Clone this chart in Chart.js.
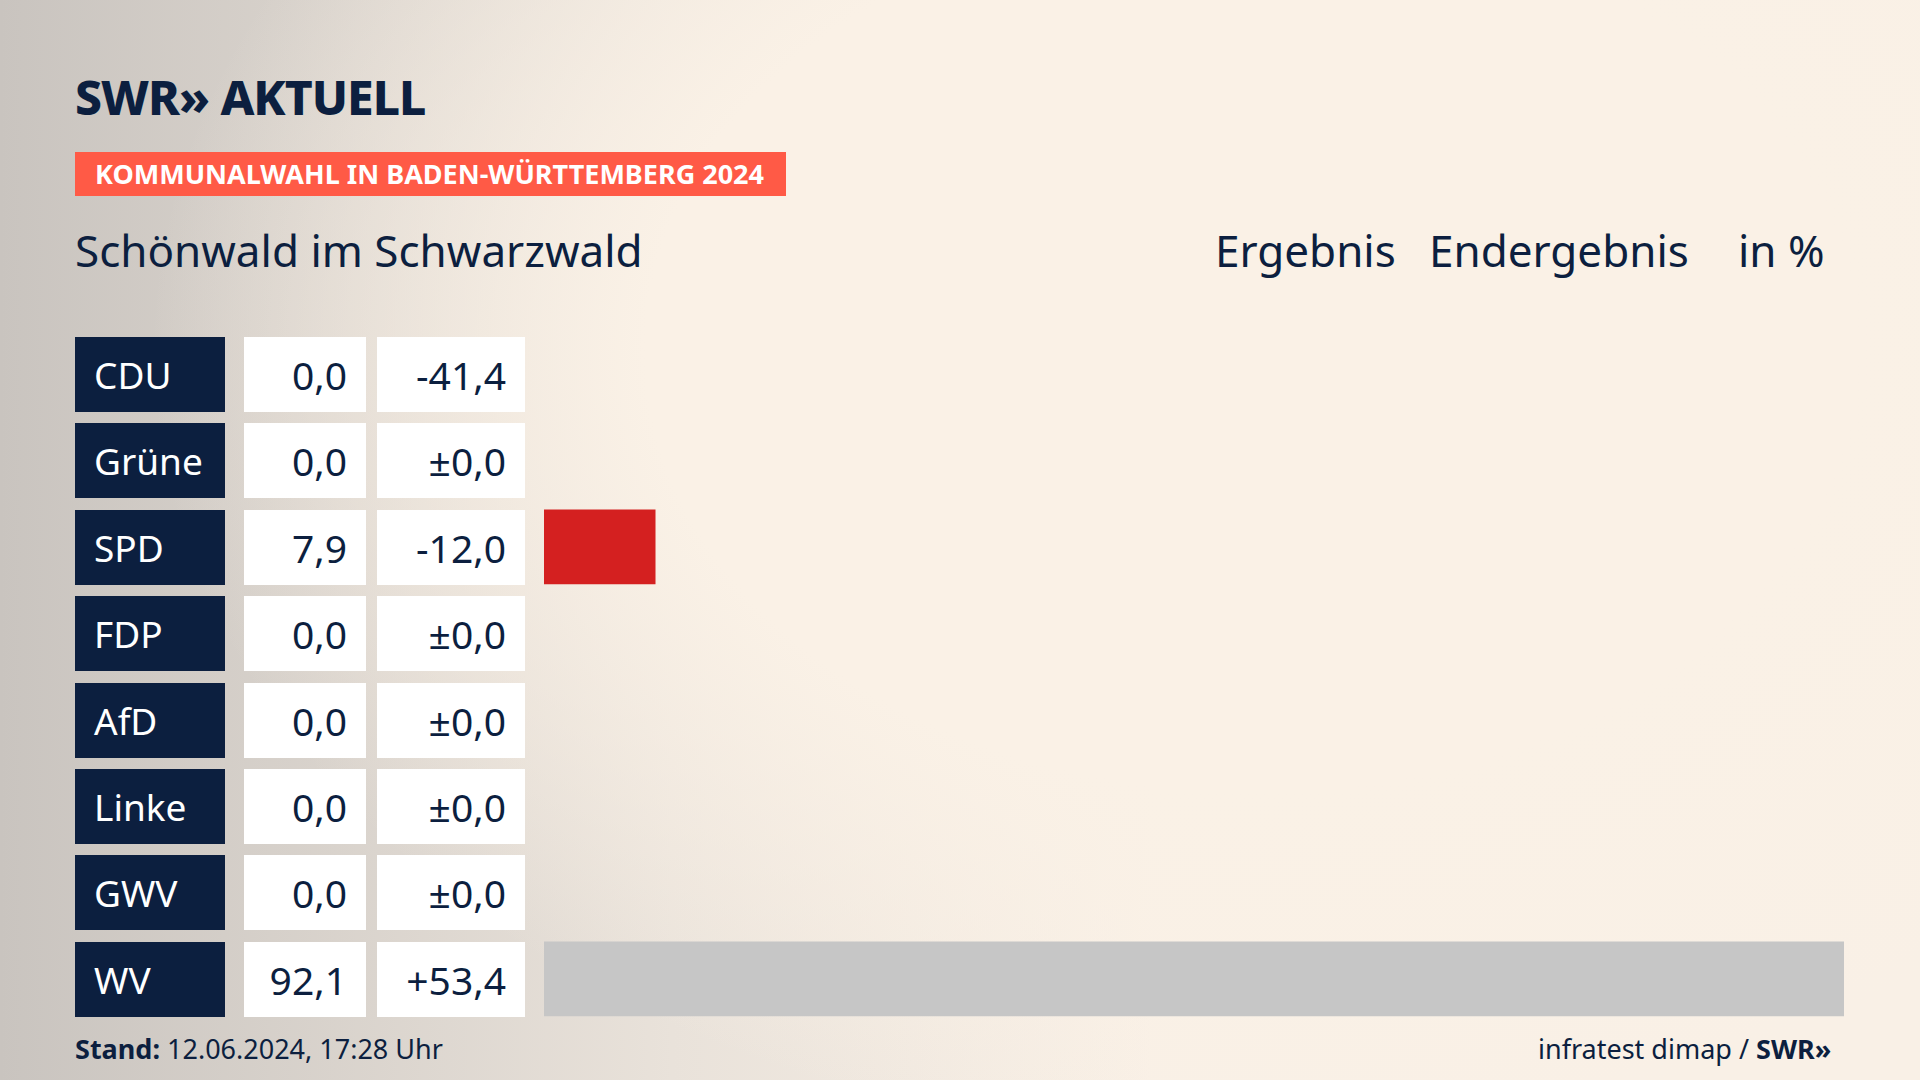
<!DOCTYPE html>
<html><head><meta charset="utf-8">
<script src="https://cdn.jsdelivr.net/npm/chart.js@4"></script>
<style>
body{margin:0;width:1920px;height:1080px;overflow:hidden;font-family:"Noto Sans",sans-serif;color:#0c1f3f;
background:radial-gradient(ellipse 1100px 800px at 1250px 350px,#faf1e6 55%,rgba(250,241,230,0) 100%),linear-gradient(90deg,#c9c4bf 0%,#e9e2da 35%,#f9f0e6 60%);}
.abs{position:absolute}
.logo{left:75px;top:64px;font-size:48px;font-weight:800;letter-spacing:-1px}
.banner{left:75px;top:152px;width:711px;height:44px;background:#ff5a46;color:#fff;font-weight:700;font-size:27px;line-height:44px;text-indent:20px}
.title{top:220px;font-size:44px}
.lab{left:75px;width:150px;height:75px;background:#0c1f3f;color:#fff;font-size:37px;line-height:75px;text-indent:19px}
.val{height:75px;background:#fff;font-size:39px;line-height:75px;text-align:right;box-sizing:border-box;padding-right:19px}
.foot{top:1030px;font-size:27px}
</style></head><body>
<div class="abs logo">SWR» AKTUELL</div>
<div class="abs banner">KOMMUNALWAHL IN BADEN-WÜRTTEMBERG 2024</div>
<div class="abs title" style="left:75px">Schönwald im Schwarzwald</div>
<div class="abs title" style="left:1215px">Ergebnis</div>
<div class="abs title" style="left:1429px">Endergebnis</div>
<div class="abs title" style="left:1738px">in %</div>
<div id="rows"></div>
<canvas id="c" class="abs" style="left:544px;top:331px;width:1300px;height:691px"></canvas>
<div class="abs foot" style="left:75px"><b>Stand:</b> 12.06.2024, 17:28 Uhr</div>
<div class="abs foot" style="left:1538px">infratest dimap / <b>SWR»</b></div>
<script>
const parties = ['CDU','Grüne','SPD','FDP','AfD','Linke','GWV','WV'];
const results = [0.0,0.0,7.9,0.0,0.0,0.0,0.0,92.1];
const changes = ['-41,4','±0,0','-12,0','±0,0','±0,0','±0,0','±0,0','+53,4'];
const colors = ['#000000','#1a9a3a','#d42020','#f5d800','#0094d8','#be3075','#c6c6c6','#c6c6c6'];

const rows = document.getElementById('rows');
parties.forEach((p,i)=>{
  const top = 337 + i*86.4;
  rows.innerHTML += `<div class="abs lab" style="top:${top}px">${p}</div>
  <div class="abs val" style="top:${top}px;left:244px;width:122px">${results[i].toFixed(1).replace('.',',')}</div>
  <div class="abs val" style="top:${top}px;left:377px;width:148px">${changes[i]}</div>`;
});

new Chart(document.getElementById('c'),{
  type:'bar',
  data:{labels:parties,datasets:[{data:results,backgroundColor:colors,barPercentage:0.865,categoryPercentage:1}]},
  options:{indexAxis:'y',responsive:false,animation:false,
    plugins:{legend:{display:false},tooltip:{enabled:false}},
    layout:{padding:0},
    scales:{x:{display:false,min:0,max:92.1},y:{display:false}}}
});
</script>
</body></html>
